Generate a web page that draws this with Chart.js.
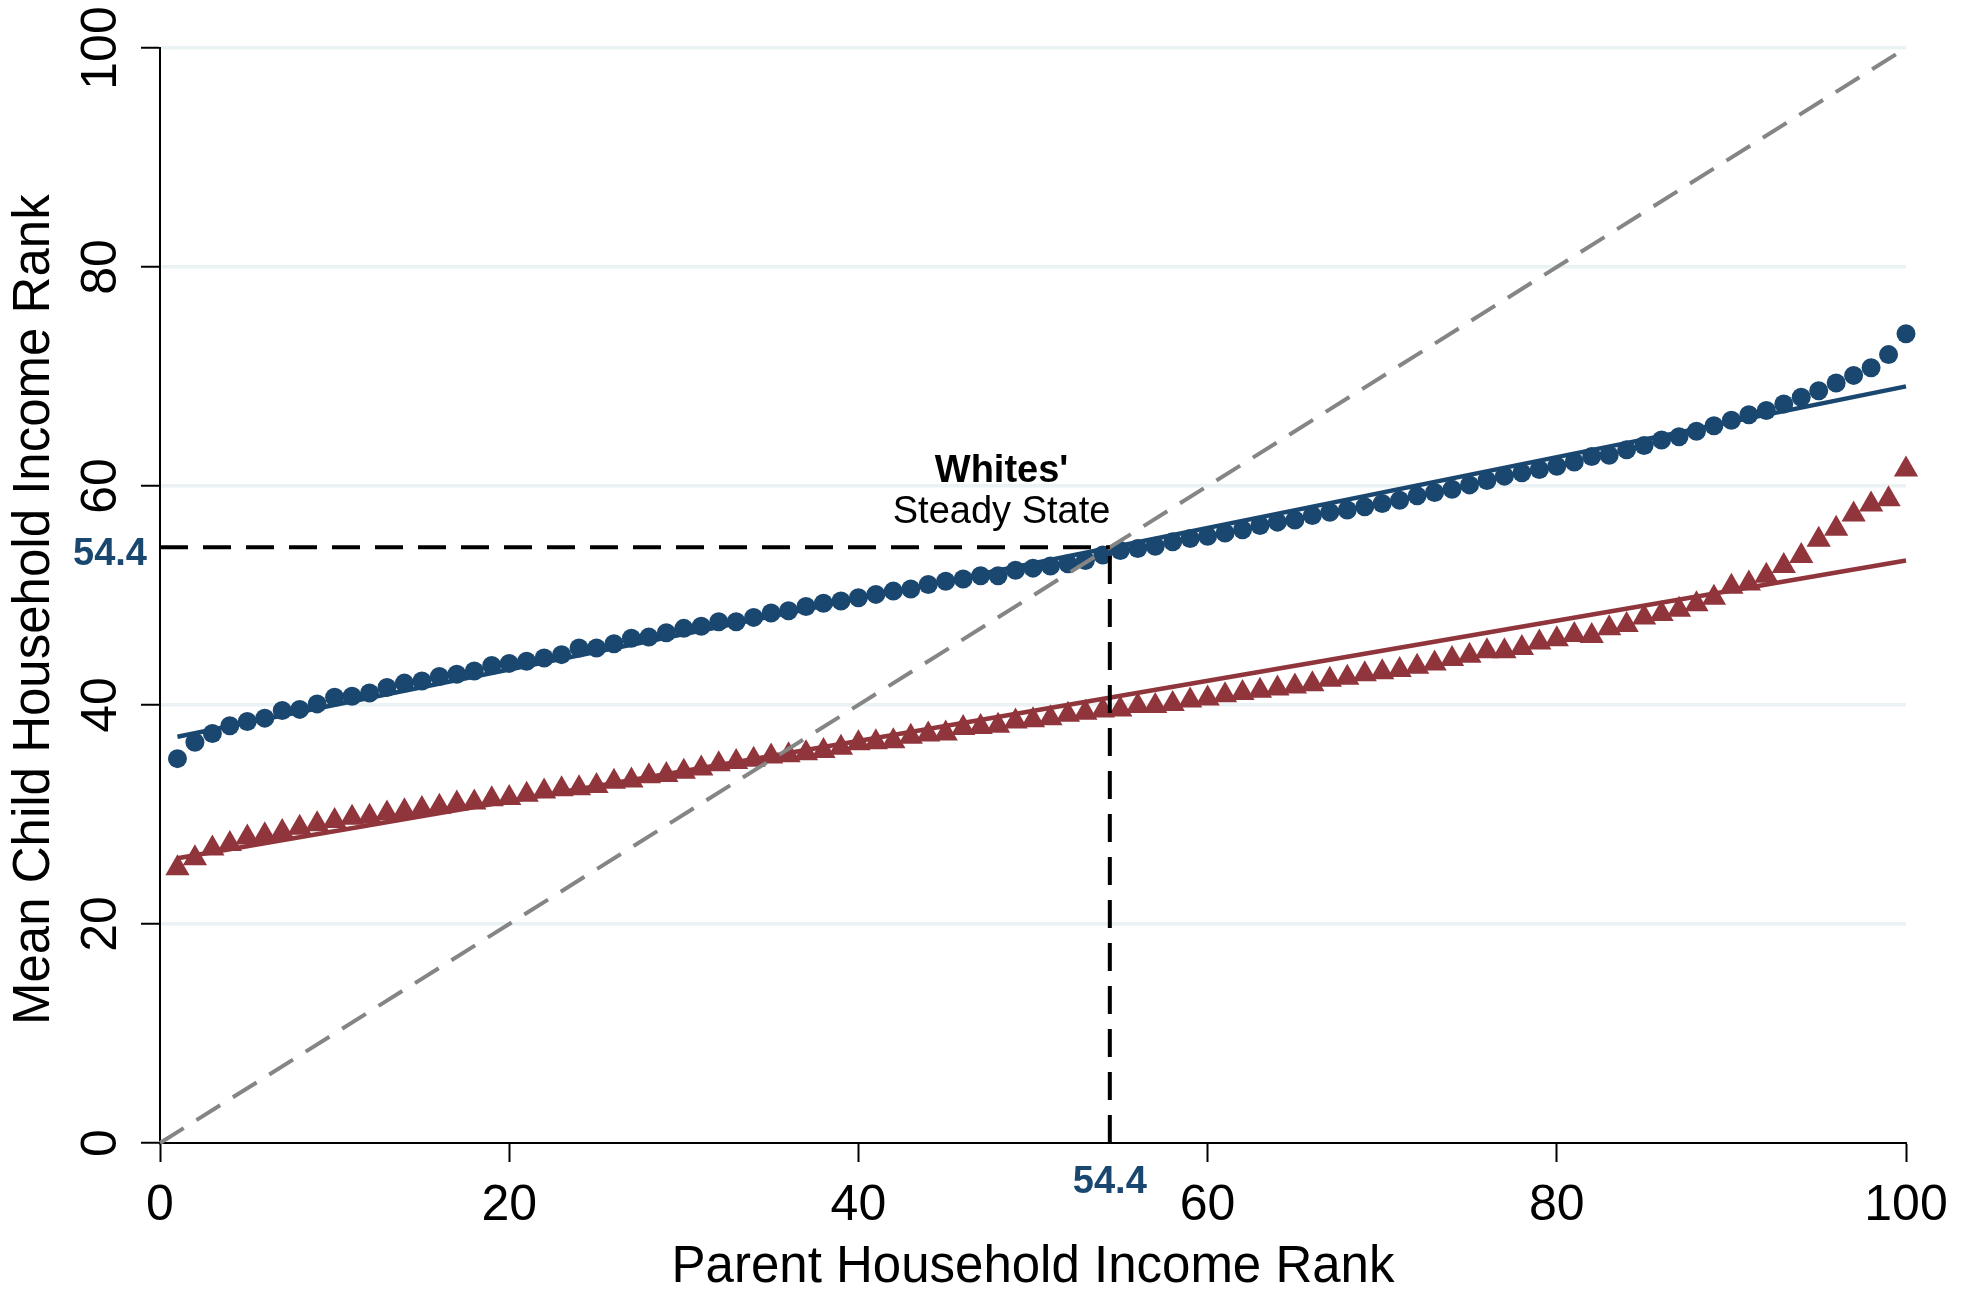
<!DOCTYPE html>
<html>
<head>
<meta charset="utf-8">
<title>Mean Child Household Income Rank</title>
<script src="https://cdn.jsdelivr.net/npm/chart.js@4/dist/chart.umd.min.js"></script>
<style>
  html, body { margin: 0; padding: 0; background: #fff; }
  canvas { display: block; }
</style>
</head>
<body>
<canvas id="mobility" width="1969" height="1295"></canvas>
<script>
// parent household income rank (percentiles)
const parentRank = [1, 2, 3, 4, 5, 6, 7, 8, 9, 10, 11, 12, 13, 14, 15, 16, 17, 18, 19, 20,
    21, 22, 23, 24, 25, 26, 27, 28, 29, 30, 31, 32, 33, 34, 35, 36, 37, 38, 39, 40,
    41, 42, 43, 44, 45, 46, 47, 48, 49, 50, 51, 52, 53, 54, 55, 56, 57, 58, 59, 60,
    61, 62, 63, 64, 65, 66, 67, 68, 69, 70, 71, 72, 73, 74, 75, 76, 77, 78, 79, 80,
    81, 82, 83, 84, 85, 86, 87, 88, 89, 90, 91, 92, 93, 94, 95, 96, 97, 98, 99, 100];

// mean child household income rank, whites
const whitesRank = [35.1, 36.6, 37.4, 38.1, 38.5, 38.8, 39.5, 39.6, 40.1, 40.7,
    40.8, 41.1, 41.6, 42.0, 42.2, 42.6, 42.8, 43.1, 43.6, 43.8,
    44.0, 44.3, 44.6, 45.2, 45.2, 45.6, 46.1, 46.2, 46.6, 47.0,
    47.2, 47.6, 47.6, 48.0, 48.4, 48.6, 49.0, 49.3, 49.5, 49.8,
    50.1, 50.4, 50.6, 51.0, 51.3, 51.5, 51.8, 51.8, 52.3, 52.5,
    52.7, 52.9, 53.2, 53.7, 54.1, 54.3, 54.5, 54.9, 55.2, 55.4,
    55.7, 56.0, 56.4, 56.7, 56.9, 57.3, 57.6, 57.8, 58.1, 58.4,
    58.7, 59.1, 59.4, 59.7, 60.1, 60.5, 60.9, 61.2, 61.5, 61.8,
    62.2, 62.7, 62.8, 63.3, 63.7, 64.2, 64.5, 65.0, 65.5, 66.0,
    66.5, 66.9, 67.5, 68.1, 68.7, 69.4, 70.1, 70.8, 72.0, 73.9];

// mean child household income rank, blacks
const blacksRank = [25.1, 26.0, 26.9, 27.3, 27.9, 28.1, 28.4, 28.8, 29.1, 29.4,
    29.7, 29.8, 30.1, 30.3, 30.5, 30.7, 31.0, 31.1, 31.4, 31.5,
    31.8, 32.1, 32.3, 32.4, 32.6, 33.0, 33.1, 33.5, 33.6, 33.9,
    34.2, 34.6, 34.8, 35.0, 35.3, 35.4, 35.6, 35.8, 36.1, 36.5,
    36.6, 36.7, 37.1, 37.3, 37.4, 37.9, 38.0, 38.1, 38.5, 38.6,
    38.8, 39.1, 39.3, 39.5, 39.6, 39.9, 39.9, 40.1, 40.4, 40.6,
    40.9, 41.1, 41.3, 41.5, 41.7, 41.9, 42.3, 42.5, 42.8, 43.0,
    43.2, 43.5, 43.8, 44.2, 44.5, 44.9, 44.9, 45.2, 45.7, 46.0,
    46.4, 46.3, 47.0, 47.3, 48.0, 48.3, 48.7, 49.2, 49.8, 50.8,
    51.1, 51.8, 52.7, 53.6, 55.1, 56.1, 57.4, 58.3, 58.8, 61.5];

// linear fits (end points)
const fitRank = [1, 100];
const whitesFit = [37.1, 69.1];
const blacksFit = [26.0, 53.2];

// 45 degree line and whites' steady state
const diagonal = [0, 100];
const steadyState = 54.4;
const axisTicks = [0, 20, 40, 60, 80, 100];

const blue = '#1a476f';
const red = '#90353b';
const gridColor = '#eaf2f3';
const fontFamily = '"Liberation Sans", Arial, Helvetica, sans-serif';

function toPoints(xs, ys) {
    return xs.map((x, i) => ({x: x, y: ys[i]}));
}

// text labels for the steady state
const steadyLabels = {
    id: 'steadyLabels',
    afterDraw(chart) {
        const ctx = chart.ctx;
        const x = chart.scales.x;
        const y = chart.scales.y;
        const px = x.getPixelForValue(steadyState);
        const py = y.getPixelForValue(steadyState);
        ctx.save();
        ctx.fillStyle = blue;
        ctx.font = 'bold 38px ' + fontFamily;
        ctx.textBaseline = 'alphabetic';
        ctx.textAlign = 'right';
        ctx.fillText(steadyState.toFixed(1), x.left - 13, py + 18);
        ctx.textAlign = 'center';
        ctx.fillText(steadyState.toFixed(1), px, y.bottom + 50);

        ctx.fillStyle = '#000';
        const lx = x.getPixelForValue(48.2);
        ctx.font = 'bold 38px ' + fontFamily;
        ctx.fillText("Whites'", lx, y.getPixelForValue(60.4));
        ctx.font = '38px ' + fontFamily;
        ctx.fillText('Steady State', lx, y.getPixelForValue(56.6));
        ctx.restore();
    }
};

const lineStyle = {showLine: true, pointRadius: 0, fill: false, clip: false};

const chart = new Chart(document.getElementById('mobility').getContext('2d'), {
    type: 'scatter',
    data: {
        datasets: [
            Object.assign({}, lineStyle, {
                label: 'steady state (y)',
                data: toPoints([0, steadyState], [steadyState, steadyState]),
                borderColor: '#000', borderWidth: 4, borderDash: [28, 15], order: 0
            }),
            Object.assign({}, lineStyle, {
                label: 'steady state (x)',
                data: toPoints([steadyState, steadyState], [0, steadyState]),
                borderColor: '#000', borderWidth: 4, borderDash: [28, 15], order: 0
            }),
            Object.assign({}, lineStyle, {
                label: '45 degree line',
                data: toPoints(diagonal, diagonal),
                borderColor: '#858585', borderWidth: 4, borderDash: [28, 15], order: 1
            }),
            Object.assign({}, lineStyle, {
                label: 'Whites fit',
                data: toPoints(fitRank, whitesFit),
                borderColor: blue, borderWidth: 4.5, order: 2
            }),
            Object.assign({}, lineStyle, {
                label: 'Blacks fit',
                data: toPoints(fitRank, blacksFit),
                borderColor: red, borderWidth: 4.5, order: 2
            }),
            {
                label: 'Whites',
                data: toPoints(parentRank, whitesRank),
                pointStyle: 'circle', pointRadius: 9.5, pointBorderWidth: 0,
                backgroundColor: blue, borderColor: blue, clip: false, order: 3
            },
            {
                label: 'Blacks',
                data: toPoints(parentRank, blacksRank),
                pointStyle: 'triangle', pointRadius: 14, pointBorderWidth: 0,
                backgroundColor: red, borderColor: red, clip: false, order: 3
            }
        ]
    },
    options: {
        responsive: false,
        animation: false,
        devicePixelRatio: 1,
        layout: {padding: {top: 48, right: 63, bottom: 0, left: 0}},
        plugins: {
            legend: {display: false},
            tooltip: {enabled: false}
        },
        scales: {
            x: {
                type: 'linear', min: 0, max: 100,
                afterBuildTicks: axis => { axis.ticks = axisTicks.map(v => ({value: v})); },
                afterFit: axis => { axis.height = 152; },
                grid: {drawOnChartArea: false, tickLength: 19, tickWidth: 2, tickColor: '#000'},
                border: {color: '#000', width: 2},
                ticks: {color: '#000', padding: 14, maxRotation: 0, font: {family: fontFamily, size: 50, lineHeight: 1.2}},
                title: {
                    display: true, text: 'Parent Household Income Rank', color: '#000',
                    font: {family: fontFamily, size: 51, lineHeight: 1}, padding: {top: 0, bottom: 2}
                }
            },
            y: {
                type: 'linear', min: 0, max: 100,
                afterBuildTicks: axis => { axis.ticks = axisTicks.map(v => ({value: v})); },
                afterFit: axis => { axis.width = 160; },
                grid: {
                    color: c => (c.tick && c.tick.value === 0) ? 'rgba(0,0,0,0)' : gridColor,
                    lineWidth: 3.5, tickLength: 19, tickWidth: 2, tickColor: '#000'
                },
                border: {color: '#000', width: 2},
                ticks: {
                    color: '#000', padding: -3, minRotation: 90, maxRotation: 90, crossAlign: 'center',
                    font: {family: fontFamily, size: 50, lineHeight: 1.2}
                },
                title: {
                    // two trailing spaces nudge the rotated title down to match the original
                    display: true, text: 'Mean Child Household Income Rank  ', color: '#000',
                    font: {family: fontFamily, size: 51, lineHeight: 1}, padding: {top: 9, bottom: 0}
                }
            }
        }
    },
    plugins: [steadyLabels]
});
</script>
</body>
</html>
